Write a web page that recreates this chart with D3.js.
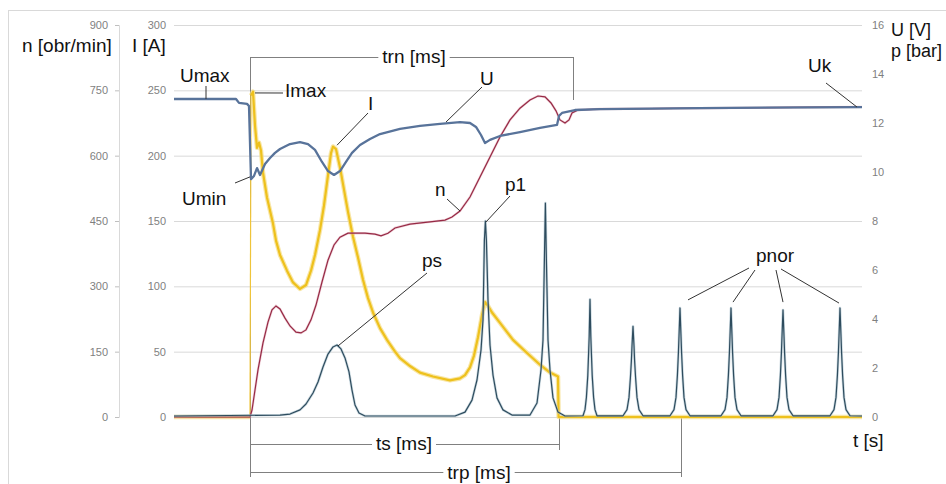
<!DOCTYPE html>
<html><head><meta charset="utf-8">
<script src="https://cdn.jsdelivr.net/npm/d3@7"></script>
<style>
html,body{margin:0;padding:0;background:#fff;}
svg{display:block;font-family:"Liberation Sans",Arial,sans-serif;}
</style></head>
<body><svg id="c" width="946" height="484"></svg>
<script>
// ---------- DATA (time in ms) ----------
const nTicks = [0,150,300,450,600,750,900];
const iTicks = [0,50,100,150,200,250,300];
const upTicks = [0,2,4,6,8,10,12,14,16];

// U [V]
const tU = [0,310,325,365,375,385,400,415,430,455,480,505,530,580,630,670,705,740,770,800,830,860,890,930,980,1030,1130,1230,1330,1430,1480,1510,1535,1555,1580,1630,1730,1830,1915,1925,1940,2005,2130,2630,3440];
const U  = [12.98,12.98,12.82,12.78,12.69,9.71,9.84,10.16,9.88,10.33,10.57,10.78,10.94,11.14,11.22,11.14,10.90,10.41,10.04,9.88,10.04,10.41,10.78,11.10,11.35,11.55,11.76,11.88,11.96,12.04,12.00,11.84,11.51,11.18,11.31,11.47,11.63,11.80,11.92,12.29,12.41,12.53,12.57,12.61,12.65];

// n [obr/min]
const tN = [0,380,390,405,420,445,470,490,510,530,555,580,610,635,660,685,710,740,770,800,830,870,955,1005,1035,1070,1105,1180,1280,1355,1390,1430,1480,1530,1580,1630,1680,1730,1780,1820,1855,1885,1910,1930,1955,1975,1990,2020,2130,2630,3440];
const N  = [0,0,16,62,108,170,218,246,255,248,227,209,195,193,200,223,257,310,360,395,413,422,422,420,416,422,434,443,448,452,459,473,505,551,597,643,682,709,728,737,735,721,703,682,675,682,698,705,707,709,712];

// I [A]
const tI = [0,380,385,395,405,415,425,435,445,465,480,495,510,530,565,595,630,660,685,705,730,750,770,785,795,810,830,850,870,895,920,945,970,995,1030,1065,1105,1130,1180,1230,1295,1380,1430,1455,1480,1500,1520,1540,1555,1570,1590,1630,1695,1765,1830,1880,1920,1923,3440];
const I  = [0,0,246,249,223,206,210,204,187,168,158,148,135,124,112,103,98,101,112,124,143,162,185,202,207,205,191,174,157,138,122,105,91,80,68,59,50,45,39,34,31,28,29.5,32,38,47,61,78,88,85,80,72,59,49,40,34,31,0,0];

// p [bar]
const tP = [0,530,580,630,660,695,720,745,770,795,815,835,855,875,890,905,925,955,
  1405,1455,1490,1515,1535,1545,1552,1557,1562,1570,1580,1595,1615,1645,1690,
  1780,1815,1835,1845,1852,1857,1862,1870,1880,1895,1920,1955,
  2045,2055,2062,2069,2073,2076,2080,2084,2087,2091,2098,2105,2115,
  2245,2265,2275,2282,2287,2290,2295,2300,2303,2308,2315,2325,2345,
  2480,2500,2510,2517,2522,2525,2530,2535,2538,2543,2550,2560,2580,
  2735,2755,2765,2772,2777,2780,2785,2790,2793,2798,2805,2815,2835,
  2995,3015,3025,3032,3037,3040,3045,3050,3053,3058,3065,3075,3095,
  3280,3300,3310,3317,3322,3325,3330,3335,3338,3343,3350,3360,3380,3440];
const P = [0.04,0.08,0.12,0.29,0.53,0.98,1.43,2.04,2.57,2.86,2.94,2.78,2.41,1.84,1.10,0.49,0.16,0.04,
  0.04,0.2,0.69,1.51,2.73,3.96,7.22,8.0,7.22,4.78,2.94,1.71,0.78,0.29,0.08,
  0.08,0.57,1.92,3.14,6.41,8.73,6.41,3.14,1.92,0.78,0.2,0.04,
  0.05,0.3,0.8,1.7,2.6,3.3,4.8,3.3,2.6,1.7,0.8,0.3,0.05,
  0.05,0.3,0.8,1.6,2.3,2.9,3.7,2.9,2.3,1.6,0.8,0.3,0.05,
  0.05,0.3,0.8,1.7,2.6,3.3,4.45,3.3,2.6,1.7,0.8,0.3,0.05,
  0.05,0.3,0.8,1.7,2.6,3.3,4.45,3.3,2.6,1.7,0.8,0.3,0.05,
  0.05,0.3,0.8,1.7,2.6,3.3,4.37,3.3,2.6,1.7,0.8,0.3,0.05,
  0.05,0.3,0.8,1.7,2.6,3.3,4.45,3.3,2.6,1.7,0.8,0.3,0.05,0.04];

// bracket times
const tStart = 380, tTrnEnd = 1995, tTsEnd = 1925, tTrpEnd = 2535;

// ---------- CHART ----------
const svg = d3.select("#c");
const L = 174, R = 862, T = 25, B = 417;
const x = d3.scaleLinear().domain([0,3440]).range([L,R]);
const yN = d3.scaleLinear().domain([0,900]).range([B,T]);
const yI = d3.scaleLinear().domain([0,300]).range([B,T]);
const yUP = d3.scaleLinear().domain([0,16]).range([B,T]);

svg.append("rect").attr("x",8.5).attr("y",10.5).attr("width",1000).attr("height",1000)
  .attr("fill","none").attr("stroke","#d9d9d9");

function styleTicks(g){
  g.selectAll(".tick text").attr("fill","#7f7f7f").style("font-size","11px")
   .style("font-family","Liberation Sans,Arial,sans-serif");
}
// grid + I axis
const gI = svg.append("g").attr("transform",`translate(${L},0)`)
  .call(d3.axisLeft(yI).tickValues(iTicks).tickSize(-(R-L)).tickPadding(8));
gI.select(".domain").remove();
gI.selectAll(".tick line").attr("stroke","#d9d9d9");
styleTicks(gI);

// n axis
const gN = svg.append("g").attr("transform",`translate(119,0)`)
  .call(d3.axisLeft(yN).tickValues(nTicks).tickSize(4).tickPadding(7));
gN.select(".domain").attr("stroke","#d9d9d9");
gN.selectAll(".tick line").attr("stroke","#bfbfbf");
styleTicks(gN);

// right axis
const gR = svg.append("g").attr("transform",`translate(${R},0)`)
  .call(d3.axisRight(yUP).tickValues(upTicks).tickSize(0).tickPadding(10));
gR.select(".domain").remove();
styleTicks(gR);

// brackets
const br = svg.append("g").attr("stroke","#808080").attr("stroke-width",1).attr("fill","none");
const x0 = Math.round(x(tStart))+0.5;
const xe = t => Math.round(x(t))+0.5;
br.append("line").attr("x1",x0).attr("x2",x0).attr("y1",57).attr("y2",477);
br.append("line").attr("x1",x0).attr("x2",xe(tTrnEnd)).attr("y1",57.5).attr("y2",57.5);
br.append("line").attr("x1",xe(tTrnEnd)).attr("x2",xe(tTrnEnd)).attr("y1",57).attr("y2",100);
br.append("line").attr("x1",x0).attr("x2",xe(tTsEnd)).attr("y1",444.5).attr("y2",444.5);
br.append("line").attr("x1",xe(tTsEnd)).attr("x2",xe(tTsEnd)).attr("y1",417).attr("y2",450);
br.append("line").attr("x1",x0).attr("x2",xe(tTrpEnd)).attr("y1",472.5).attr("y2",472.5);
br.append("line").attr("x1",xe(tTrpEnd)).attr("x2",xe(tTrpEnd)).attr("y1",417).attr("y2",477);

// series
function mk(ts, vs){ return ts.map((t,i)=>[t,vs[i]]); }
const lineI = d3.line().x(d=>x(d[0])).y(d=>yI(d[1]));
const lineN = d3.line().x(d=>x(d[0])).y(d=>yN(d[1]));
const lineUP = d3.line().x(d=>x(d[0])).y(d=>yUP(d[1]));

const iPts = mk(tI,I);
const iJump = iPts.slice(1,3);           // thin vertical rise at start
const iBase = iPts.slice(0,2);
const iMain = iPts.slice(2);
svg.append("path").attr("d",lineI(iJump)).attr("fill","none").attr("stroke","#efc43a").attr("stroke-width",1.2);
[iBase,iMain].forEach(seg=>{
  svg.append("path").attr("d",lineI(seg)).attr("fill","none").attr("stroke","#f5dc80").attr("stroke-width",4.5).attr("stroke-opacity",0.7).attr("stroke-linejoin","round");
  svg.append("path").attr("d",lineI(seg)).attr("fill","none").attr("stroke","#eec11d").attr("stroke-width",2.2).attr("stroke-linejoin","round");
});
svg.append("path").attr("d",lineN(mk(tN,N))).attr("fill","none").attr("stroke","#e0a0b0").attr("stroke-width",2.4).attr("stroke-opacity",0.5);
svg.append("path").attr("d",lineN(mk(tN,N))).attr("fill","none").attr("stroke","#962a45").attr("stroke-width",1.2);
svg.append("path").attr("d",lineUP(mk(tP,P))).attr("fill","none").attr("stroke","#a9bfcb").attr("stroke-width",2.6).attr("stroke-opacity",0.6).attr("stroke-linejoin","round");
svg.append("path").attr("d",lineUP(mk(tP,P))).attr("fill","none").attr("stroke","#2e4c5e").attr("stroke-width",1.2).attr("stroke-linejoin","round");
svg.append("path").attr("d",lineUP(mk(tU,U))).attr("fill","none").attr("stroke","#58739a").attr("stroke-width",2.3).attr("stroke-linejoin","round");

// labels
const txt = svg.append("g").attr("fill","#111").style("font-size","19px");
function label(s,xx,yy,anchor,bg,fs){
  const t = txt.append("text").attr("x",xx).attr("y",yy).attr("text-anchor",anchor||"start").text(s);
  if(fs) t.style("font-size",fs);
  if(bg){
    const b = t.node().getBBox();
    txt.insert("rect","text").attr("x",b.x-4).attr("y",b.y+2).attr("width",b.width+8).attr("height",b.height-4).attr("fill","#fff");
  }
  return t;
}
label("n [obr/min]",22,52);
label("I [A]",132,52);
label("U [V]",891,36,null,false,"18px");
label("p [bar]",891,57,null,false,"18px");
label("Umax",180,82);
label("Imax",285,97);
label("I",368,110);
label("U",480,85);
label("Umin",182,205);
label("n",435,196);
label("p1",505,191);
label("ps",422,267);
label("pnor",756,262);
label("Uk",808,72);
label("t [s]",853,447);
label("trn [ms]",414,63,"middle",true);
label("ts [ms]",404,450,"middle",true);
label("trp [ms]",479,479,"middle",true);

// connectors (label end in px -> point on curve in data coords)
const con = svg.append("g").attr("stroke","#333").attr("stroke-width",1).attr("fill","none");
function cn(px,py,qx,qy){ con.append("line").attr("x1",px).attr("y1",py).attr("x2",qx).attr("y2",qy); }
cn(206,86, x(160), yUP(12.98));
cn(283,93, x(405), yI(248));
cn(368,113, x(815), yI(208));
cn(482,87, x(1360), yUP(12.04));
cn(235,183, x(380), yUP(9.8));
cn(447,199, x(1430), yN(473));
cn(510,196, x(1560), yUP(7.96));
cn(427,273, x(820), yUP(2.9));
cn(749,268, x(2570), yUP(4.78));
cn(755,270, x(2795), yUP(4.69));
cn(776,270, x(3045), yUP(4.69));
cn(781,269, x(3325), yUP(4.65));
cn(826,83, x(3415), yUP(12.65));
</script></body></html>
